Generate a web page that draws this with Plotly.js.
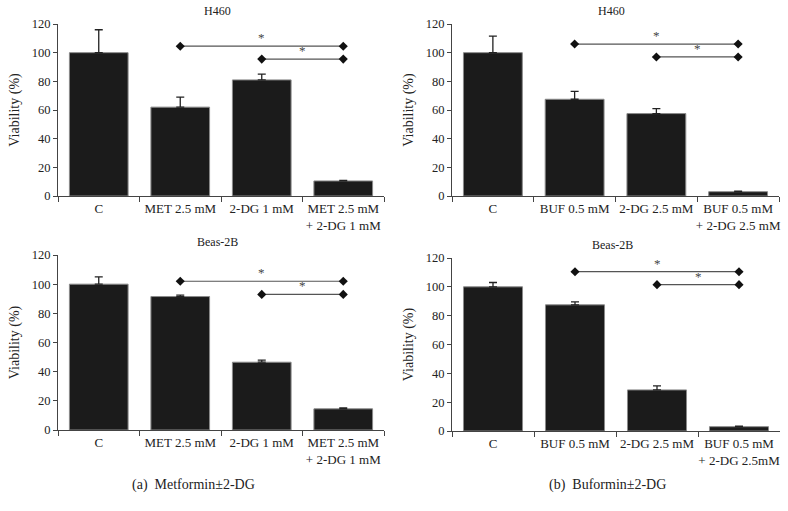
<!DOCTYPE html>
<html>
<head>
<meta charset="utf-8">
<script src="https://cdn.plot.ly/plotly-3.0.1.min.js"></script>
<style>html,body{margin:0;padding:0;background:#fff}#chart{width:788px;height:511px}</style>
</head>
<body>
<div id="chart"></div>
<script>
// ---- data ----
const catsMetH = ["C", "MET 2.5 mM", "2-DG 1 mM", "MET 2.5 mM<br>+ 2-DG 1 mM"];
const catsBufH = ["C", "BUF 0.5 mM", "2-DG 2.5 mM", "BUF 0.5 mM<br>+ 2-DG 2.5 mM"];
const catsMetB = ["C", "MET 2.5 mM", "2-DG 1 mM", "MET 2.5 mM<br>+ 2-DG 1 mM"];
const catsBufB = ["C", "BUF 0.5 mM", "2-DG 2.5 mM", "BUF 0.5 mM<br>+ 2-DG 2.5mM"];

const h460Met = [100, 62, 81, 10.5];
const h460MetErr = [16, 7, 4, 0.3];
const h460Buf = [100, 67.5, 57.5, 3];
const h460BufErr = [11.5, 5.5, 3.5, 0.4];
const beasMet = [100, 91.5, 46.5, 14.5];
const beasMetErr = [5, 1, 1.4, 0.6];
const beasBuf = [100, 87.5, 28.5, 3];
const beasBufErr = [3, 2, 2.8, 0.4];

// significance brackets: [fromIndex, toIndex, level]
const sigMetH = [[1, 3, 104.5], [2, 3, 95.5]];
const sigBufH = [[1, 3, 106], [2, 3, 97]];
const sigMetB = [[1, 3, 102], [2, 3, 93]];
const sigBufB = [[1, 3, 110.5], [2, 3, 101.5]];

const panelTitles = ["H460", "H460", "Beas-2B", "Beas-2B"];
const captions = ["(a)  Metformin±2-DG", "(b)  Buformin±2-DG"];
const yTitle = "Viability (%)";

// ---- build ----
const W = 788, H = 511;
const FONT = "Liberation Serif, Times New Roman, serif";
const panels = [
  {cats: catsMetH, y: h460Met, e: h460MetErr, sig: sigMetH, x0: 58, x1: 384, yt: 24, yb: 196},
  {cats: catsBufH, y: h460Buf, e: h460BufErr, sig: sigBufH, x0: 452, x1: 779, yt: 24, yb: 196},
  {cats: catsMetB, y: beasMet, e: beasMetErr, sig: sigMetB, x0: 58, x1: 384, yt: 255, yb: 430},
  {cats: catsBufB, y: beasBuf, e: beasBufErr, sig: sigBufB, x0: 452, x1: 780, yt: 258, yb: 431}
];

const data = [];
const layout = {
  width: W, height: H,
  margin: {l: 0, r: 0, t: 0, b: 0},
  paper_bgcolor: "#fff", plot_bgcolor: "#fff",
  showlegend: false,
  bargap: 0.28,
  font: {family: FONT, size: 12, color: "#222"},
  annotations: [], shapes: []
};

panels.forEach((p, i) => {
  const n = i + 1;
  const xa = n === 1 ? "x" : "x" + n;
  const ya = n === 1 ? "y" : "y" + n;
  const xk = n === 1 ? "xaxis" : "xaxis" + n;
  const yk = n === 1 ? "yaxis" : "yaxis" + n;

  data.push({
    type: "bar", x: p.cats, y: p.y, xaxis: xa, yaxis: ya,
    marker: {color: "#1b1b1b", line: {color: "#8a8a8a", width: 1}},
    error_y: {type: "data", symmetric: false, array: p.e, arrayminus: p.e.map(() => 0),
              color: "#222", thickness: 1.3, width: 4},
    hoverinfo: "skip"
  });

  p.sig.forEach(s => {
    data.push({
      type: "scatter", mode: "lines+markers",
      x: [p.cats[s[0]], p.cats[s[1]]], y: [s[2], s[2]],
      xaxis: xa, yaxis: ya,
      line: {color: "#555", width: 1.2},
      marker: {symbol: "diamond", size: 7, color: "#111"},
      hoverinfo: "skip"
    });
    layout.annotations.push({
      xref: xa, yref: ya, x: (s[0] + s[1]) / 2, y: s[2],
      text: "*", showarrow: false, yanchor: "bottom", yshift: -1,
      font: {family: FONT, size: 13, color: "#444"}
    });
  });

  layout[xk] = {
    domain: [p.x0 / W, p.x1 / W], anchor: ya, type: "category",
    tickson: "boundaries", ticks: "outside", ticklen: 5, tickcolor: "#444",
    tickangle: 0, automargin: false,
    showline: true, linecolor: "#444", linewidth: 1,
    showgrid: false, zeroline: false,
    tickfont: {family: FONT, size: 13, color: "#222"}, fixedrange: true
  };
  layout[yk] = {
    domain: [1 - p.yb / H, 1 - p.yt / H], anchor: xa,
    range: [0, 120], dtick: 20, ticks: "outside", ticklen: 4, tickcolor: "#444",
    showline: true, linecolor: "#444", linewidth: 1,
    showgrid: false, zeroline: false, automargin: false,
    tickfont: {family: FONT, size: 12.5, color: "#222"},
    title: {text: yTitle, font: {family: FONT, size: 14, color: "#222"}, standoff: 8},
    fixedrange: true
  };

  layout.annotations.push({
    xref: "paper", yref: "paper",
    x: ((p.x0 + p.x1) / 2 - 4) / W, y: 1 - (p.yt - 13) / H,
    text: panelTitles[i], showarrow: false, xanchor: "center", yanchor: "middle",
    font: {family: FONT, size: 12, color: "#222"}
  });
});

captions.forEach((c, j) => {
  layout.annotations.push({
    xref: "paper", yref: "paper",
    x: (j === 0 ? 193 : 607) / W, y: 1 - 485 / H,
    text: c, showarrow: false, xanchor: "center", yanchor: "middle",
    font: {family: FONT, size: 14, color: "#222"}
  });
});

Plotly.newPlot("chart", data, layout, {staticPlot: true, displayModeBar: false});
</script>
</body>
</html>
